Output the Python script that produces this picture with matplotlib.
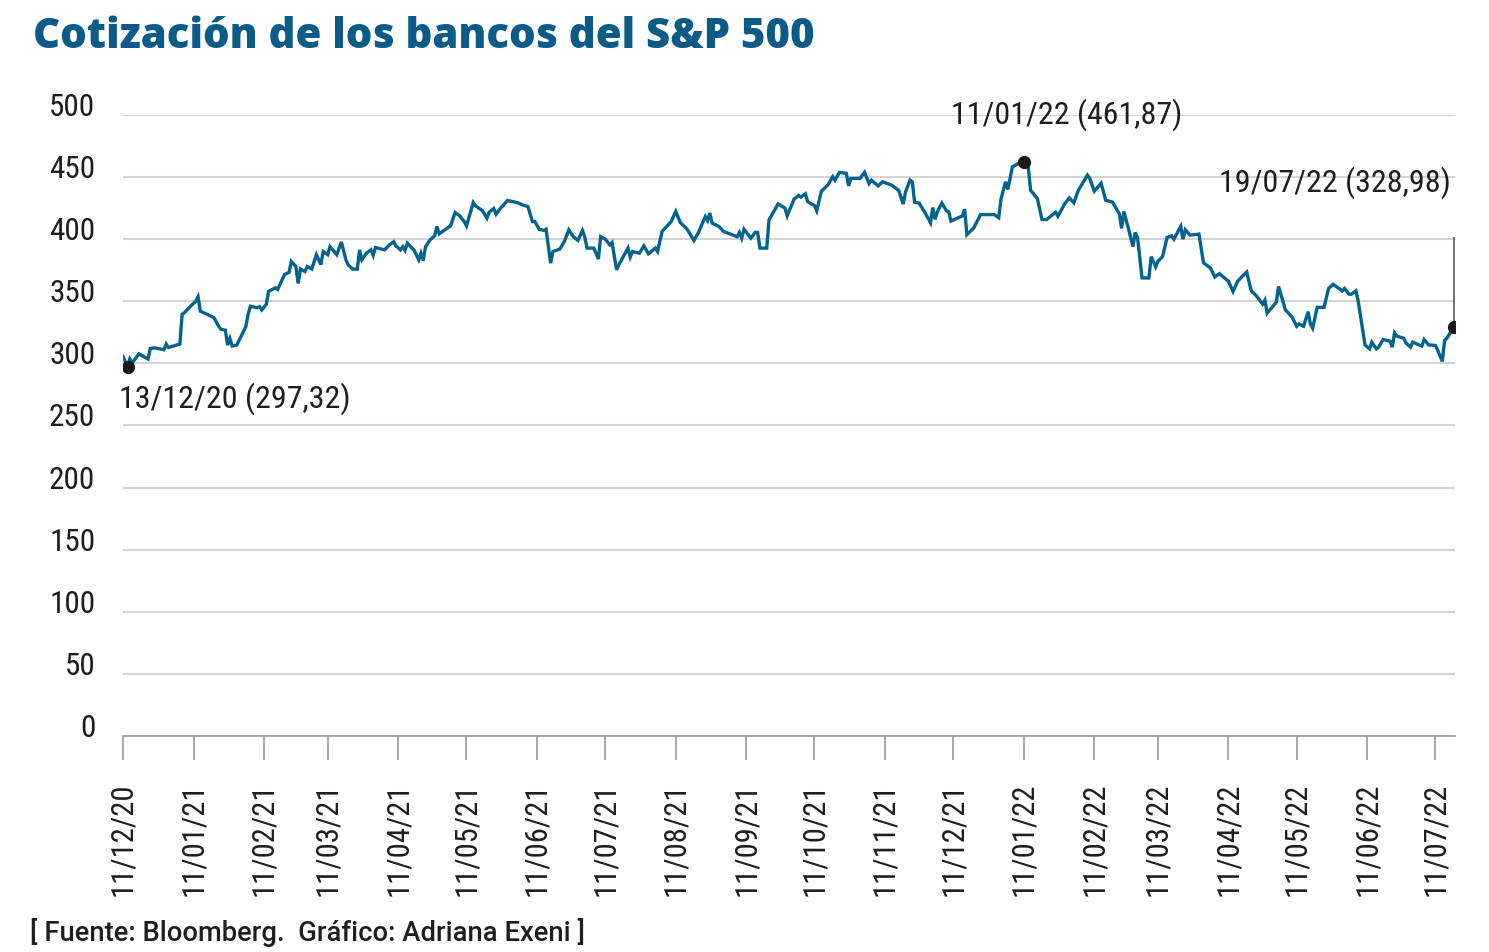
import numpy as np
import pandas as pd
import matplotlib
matplotlib.use("Agg")
import matplotlib.pyplot as plt
import matplotlib.dates as mdates

# dias desde el 11/12/20 y cotizacion del indice de bancos del S&P 500
inicio = pd.Timestamp("2020-12-11")
dias = [0, 2, 3, 4, 7, 9, 11, 12, 14, 18,
        19, 20, 25, 26, 27, 29, 32, 33, 34, 37,
        40, 42, 43, 45, 46, 47, 48, 50, 52, 54,
        55, 56, 59, 60, 61, 63, 64, 67, 68, 70,
        71, 73, 74, 76, 77, 78, 80, 81, 83, 85,
        87, 88, 90, 91, 94, 96, 98, 99, 101, 103,
        104, 105, 107, 109, 110, 111, 115, 117, 119, 120,
        122, 123, 124, 125, 128, 130, 131, 132, 133, 135,
        137, 138, 139, 144, 146, 148, 150, 151, 154, 155,
        158, 160, 161, 163, 164, 166, 167, 169, 172, 174,
        176, 178, 180, 181, 183, 185, 186, 188, 189, 192,
        194, 196, 198, 200, 202, 203, 204, 207, 209, 210,
        212, 214, 215, 217, 218, 222, 223, 224, 227, 229,
        231, 234, 235, 237, 241, 243, 245, 248, 251, 253,
        256, 257, 258, 259, 262, 264, 270, 271, 272, 273,
        276, 278, 279, 280, 283, 284, 288, 291, 292, 294,
        295, 297, 298, 300, 301, 304, 305, 307, 310, 312,
        313, 315, 318, 319, 320, 324, 326, 328, 329, 332,
        334, 338, 341, 343, 344, 346, 347, 348, 350, 353,
        355, 356, 357, 358, 360, 362, 363, 364, 369, 370,
        371, 374, 377, 383, 385, 386, 388, 389, 391, 394,
        396, 398, 399, 402, 404, 406, 410, 411, 414, 416,
        418, 420, 424, 425, 427, 430, 432, 435, 438, 439,
        440, 442, 444, 445, 446, 448, 451, 452, 454, 455,
        457, 459, 461, 462, 465, 466, 467, 469, 473, 475,
        478, 480, 482, 486, 488, 490, 492, 494, 496, 498,
        501, 502, 503, 507, 508, 511, 514, 516, 517, 519,
        521, 522, 523, 525, 528, 530, 532, 536, 537, 539,
        540, 542, 543, 546, 548, 549, 551, 552, 554, 557,
        558, 559, 560, 563, 564, 566, 567, 571, 572, 574,
        577, 578, 580, 581, 582, 585]
valores = [305.6, 297.32, 303.5, 300.3, 307.7, 305.6, 303.5, 312.0, 312.5, 311.0,
           315.5, 312.8, 315.5, 339.5, 340.8, 344.8, 350.0, 353.6, 342.0, 339.5,
           336.8, 330.0, 327.5, 326.7, 314.7, 320.0, 314.0, 314.7, 322.0, 329.6,
           339.5, 346.0, 344.8, 345.6, 343.0, 347.5, 358.0, 360.8, 359.5, 367.5,
           371.5, 373.3, 382.0, 378.0, 364.3, 376.0, 374.0, 378.0, 376.0, 387.5,
           379.5, 390.0, 387.5, 394.0, 387.5, 397.8, 383.4, 379.3, 375.9, 375.9,
           391.4, 383.4, 388.7, 391.4, 387.0, 393.3, 391.4, 395.2, 397.9, 394.6,
           391.4, 394.0, 391.0, 396.8, 391.0, 383.4, 388.7, 382.8, 394.0, 399.5,
           402.7, 410.2, 404.3, 410.7, 421.4, 418.8, 414.2, 410.7, 429.5, 426.8,
           423.0, 416.9, 421.7, 424.7, 420.1, 425.0, 426.8, 431.1, 430.0, 429.0,
           427.3, 426.3, 414.2, 414.2, 408.0, 407.0, 408.0, 380.7, 390.0, 392.0,
           398.0, 407.5, 402.0, 399.0, 407.0, 402.0, 392.8, 392.8, 384.0, 402.0,
           400.0, 395.4, 397.3, 375.3, 379.4, 392.8, 385.5, 390.0, 388.7, 394.6,
           388.2, 392.8, 390.0, 406.2, 414.2, 422.3, 413.4, 408.0, 399.0, 405.4,
           418.2, 415.0, 421.0, 412.9, 410.2, 406.2, 402.0, 405.4, 400.8, 408.0,
           400.8, 405.6, 405.4, 392.8, 392.8, 415.5, 428.4, 425.0, 418.8, 427.6,
           432.2, 435.2, 433.8, 436.5, 430.2, 427.0, 422.8, 438.5, 444.0, 450.3,
           447.5, 453.8, 453.0, 442.9, 448.9, 448.9, 453.8, 444.8, 447.5, 442.9,
           446.2, 443.4, 439.3, 428.3, 437.9, 447.5, 446.2, 429.7, 429.1, 420.0,
           413.2, 425.5, 416.0, 422.0, 429.1, 422.8, 422.0, 414.6, 418.7, 424.2,
           403.6, 409.0, 419.8, 419.8, 417.3, 432.4, 446.2, 440.1, 458.2, 461.3,
           461.87, 457.6, 439.4, 432.6, 415.8, 415.8, 421.7, 418.5, 428.5, 433.2,
           429.3, 439.4, 451.6, 448.9, 438.6, 445.1, 431.3, 429.9, 420.4, 408.7,
           422.3, 408.7, 394.0, 405.4, 401.4, 368.8, 368.8, 385.9, 377.7, 382.3,
           385.9, 401.4, 402.7, 400.0, 410.3, 400.0, 407.6, 403.3, 404.1, 381.0,
           376.9, 369.6, 372.3, 366.0, 357.9, 366.0, 370.0, 373.6, 358.4, 354.9,
           347.7, 350.9, 340.5, 349.1, 361.9, 343.2, 337.1, 329.9, 331.7, 329.9,
           341.6, 331.7, 328.3, 345.1, 345.1, 360.3, 363.7, 358.4, 360.3, 355.7,
           355.7, 358.4, 350.4, 314.9, 311.7, 317.1, 311.7, 313.1, 319.2, 317.9,
           313.1, 324.5, 321.9, 320.3, 316.5, 313.1, 317.1, 313.9, 319.2, 314.9,
           314.4, 310.4, 301.6, 318.4, 320.3, 328.98]

fechas = inicio + pd.to_timedelta(dias, unit="D")
valores = np.array(valores)

titulo = "Cotización de los bancos del S&P 500"
fuente = "[ Fuente: Bloomberg.  Gráfico: Adriana Exeni ]"

AZUL = "#03638f"
AZUL_TIT = "#0b5b88"
TXT = "#1e1e1e"
NARROW = ["Roboto Condensed", "DejaVu Sans"]

fig = plt.figure(figsize=(14.89, 9.53), dpi=100)
ax = fig.add_axes([0.0826, 0.2267, 0.9772 - 0.0826, 0.8783 - 0.2267])

ax.plot(fechas, valores, color=AZUL, lw=2.4, solid_joinstyle="miter", zorder=3)

ax.set_ylim(0, 500)
ax.set_xlim(inicio, inicio + pd.Timedelta(days=585.6))
ax.set_yticks(np.arange(0, 501, 50))
ax.yaxis.grid(True, color="#d4d4d4", lw=1.5)
ax.set_axisbelow(True)
for s in ["left", "right", "top"]:
    ax.spines[s].set_visible(False)
ax.spines["bottom"].set_color("#9a9a9a")
ax.spines["bottom"].set_linewidth(1.2)

ax.tick_params(axis="y", length=0, pad=20, labelsize=22.5, labelcolor=TXT)
for lab in ax.get_yticklabels():
    lab.set_family(NARROW)
    lab.set_verticalalignment("baseline")

meses = pd.date_range("2020-12-01", "2022-07-01", freq="MS") + pd.Timedelta(days=10)
ax.set_xticks(meses)
ax.xaxis.set_major_formatter(mdates.DateFormatter("%d/%m/%y"))
ax.tick_params(axis="x", length=17, width=1.2, color="#9a9a9a", pad=16,
               labelsize=22, labelcolor=TXT, labelrotation=90)
for lab in ax.get_xticklabels():
    lab.set_family(NARROW)

# puntos destacados
def etiqueta(i):
    return f"{fechas[i]:%d/%m/%y} ({valores[i]:.2f})".replace(".", ",")

i_ini = 1
i_max = int(np.argmax(valores))
i_fin = len(valores) - 1

ax.vlines(fechas[i_fin], valores[i_fin], valores[i_fin] + 73, color="#666666", lw=1.3, zorder=2)
for i in (i_ini, i_max, i_fin):
    ax.plot(fechas[i], valores[i], "o", color="#1a1a1a", ms=8.5, zorder=4)

kw = dict(textcoords="offset points", fontsize=23, family=NARROW, color=TXT, va="center")
ax.annotate(etiqueta(i_ini), (fechas[i_ini], valores[i_ini]), xytext=(-6, -22),
            ha="left", **kw)
ax.annotate(etiqueta(i_max), (fechas[i_max], valores[i_max]), xytext=(31, 35),
            ha="center", **kw)
ax.annotate(etiqueta(i_fin), (fechas[i_fin], valores[i_fin]), xytext=(-2, 105),
            ha="right", **kw)

fig.text(0.022, 0.9496, titulo, fontsize=30.2, fontweight="heavy",
         family=["Open Sans", "DejaVu Sans"], color=AZUL_TIT, va="baseline")
fig.text(0.02, 0.0125, fuente, fontsize=19.7, fontweight="medium",
         family=["Roboto", "DejaVu Sans"], color=TXT, va="baseline")

fig.savefig("out.png", dpi=100)
